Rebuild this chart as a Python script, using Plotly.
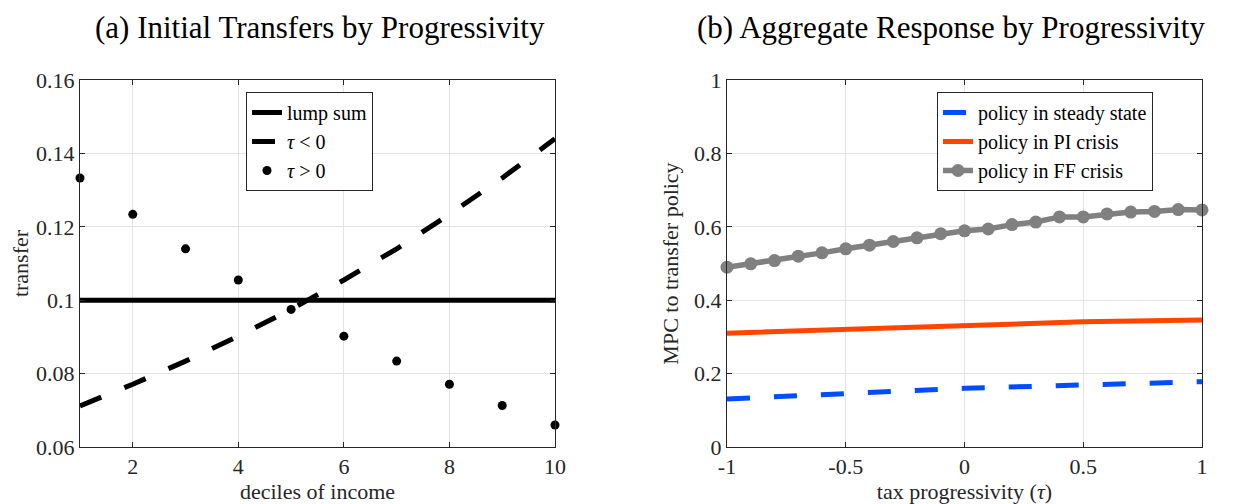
import plotly.graph_objects as go

# ---------------- data ----------------
deciles = [1, 2, 3, 4, 5, 6, 7, 8, 9, 10]
lump_sum = [0.1] * 10
tau_neg = [0.0712, 0.0771, 0.0834, 0.0902, 0.0975, 0.1055, 0.1140, 0.1234, 0.1333, 0.1440]
tau_pos = [0.1333, 0.1234, 0.1140, 0.1055, 0.0975, 0.0902, 0.0834, 0.0771, 0.0713, 0.0660]

tau_grid = [-1.0, -0.9, -0.8, -0.7, -0.6, -0.5, -0.4, -0.3, -0.2, -0.1, 0.0,
            0.1, 0.2, 0.3, 0.4, 0.5, 0.6, 0.7, 0.8, 0.9, 1.0]
mpc_ff = [0.490, 0.499, 0.508, 0.520, 0.529, 0.540, 0.550, 0.560, 0.570, 0.581, 0.589,
          0.594, 0.606, 0.613, 0.627, 0.627, 0.635, 0.640, 0.642, 0.647, 0.646]
tau_pi = [-1.0, -0.5, 0.0, 0.5, 1.0]
mpc_pi = [0.310, 0.321, 0.332, 0.341, 0.346]
tau_ss = [-1.0, -0.5, 0.0, 0.5, 1.0]
mpc_ss = [0.131, 0.146, 0.160, 0.169, 0.178]

left_xticks = [2, 4, 6, 8, 10]
left_yticks = [0.06, 0.08, 0.10, 0.12, 0.14, 0.16]
left_yticklabels = ["0.06", "0.08", "0.1", "0.12", "0.14", "0.16"]
right_xticks = [-1, -0.5, 0, 0.5, 1]
right_xticklabels = ["-1", "-0.5", "0", "0.5", "1"]
right_yticks = [0, 0.2, 0.4, 0.6, 0.8, 1]
right_yticklabels = ["0", "0.2", "0.4", "0.6", "0.8", "1"]

# ---------------- figure ----------------
FONT = "Liberation Serif"
W, H = 1235, 504
OFF = 8  # page body margin
AX = "#262626"
GRID = "#e3e3e3"
FS = 22
LFS = 20

fig = go.Figure()

fig.add_trace(go.Scatter(x=deciles, y=lump_sum, mode="lines", name="lump sum",
                         line=dict(color="black", width=5), xaxis="x", yaxis="y",
                         legend="legend"))
fig.add_trace(go.Scatter(x=deciles, y=tau_neg, mode="lines", name="<i>τ</i> &lt; 0",
                         line=dict(color="black", width=5, dash="23px,25px"),
                         xaxis="x", yaxis="y", legend="legend"))
fig.add_trace(go.Scatter(x=deciles, y=tau_pos, mode="markers", name="<i>τ</i> &gt; 0",
                         marker=dict(color="black", size=9), cliponaxis=False,
                         xaxis="x", yaxis="y", legend="legend"))

fig.add_trace(go.Scatter(x=tau_ss, y=mpc_ss, mode="lines", name="policy in steady state",
                         line=dict(color="#004dff", width=5, dash="23px,24px"),
                         xaxis="x2", yaxis="y2", legend="legend2"))
fig.add_trace(go.Scatter(x=tau_pi, y=mpc_pi, mode="lines", name="policy in PI crisis",
                         line=dict(color="#ff4500", width=5),
                         xaxis="x2", yaxis="y2", legend="legend2"))
fig.add_trace(go.Scatter(x=tau_grid, y=mpc_ff, mode="lines+markers", name="policy in FF crisis",
                         line=dict(color="#808080", width=5.5),
                         marker=dict(color="#808080", size=13), cliponaxis=False,
                         xaxis="x2", yaxis="y2", legend="legend2"))

def px_x(p):
    return (p - OFF) / W

def px_y(p):
    return 1 - (p - OFF) / H

tfont = dict(family=FONT, size=FS, color="#262626")
common_axis = dict(showline=True, linecolor=AX, linewidth=1, mirror="ticks",
                   ticks="inside", ticklen=5, tickcolor=AX,
                   showgrid=True, gridcolor=GRID, gridwidth=1, zeroline=False,
                   tickfont=tfont, automargin=False)

fig.update_layout(
    width=W, height=H,
    margin=dict(l=0, r=0, t=0, b=0),
    paper_bgcolor="white", plot_bgcolor="white",
    font=dict(family=FONT, size=FS, color="#262626"),
    xaxis=dict(domain=[px_x(80), px_x(555)], range=[1, 10], tickvals=left_xticks,
               anchor="y", title=dict(text="deciles of income", standoff=4, font=tfont),
               **common_axis),
    yaxis=dict(domain=[px_y(447), px_y(80)], range=[0.06, 0.16], tickvals=left_yticks,
               ticktext=left_yticklabels, anchor="x",
               title=dict(text="transfer", standoff=12, font=tfont),
               **common_axis),
    xaxis2=dict(domain=[px_x(727), px_x(1202)], range=[-1, 1], tickvals=right_xticks,
                ticktext=right_xticklabels, anchor="y2",
                title=dict(text="tax progressivity (<i>τ</i>)", standoff=4, font=tfont),
                **common_axis),
    yaxis2=dict(domain=[px_y(447), px_y(80)], range=[0, 1], tickvals=right_yticks,
                ticktext=right_yticklabels, anchor="x2",
                title=dict(text="MPC to transfer policy", standoff=9, font=tfont),
                **common_axis),
    legend=dict(x=px_x(246), y=px_y(92), xanchor="left", yanchor="top",
                bgcolor="white", bordercolor=AX, borderwidth=1,
                font=dict(family=FONT, size=LFS, color="black"), tracegroupgap=0),
    legend2=dict(x=px_x(937), y=px_y(92), xanchor="left", yanchor="top",
                 bgcolor="white", bordercolor=AX, borderwidth=1,
                 font=dict(family=FONT, size=LFS, color="black"), tracegroupgap=0),
    annotations=[
        dict(text="(a) Initial Transfers by Progressivity", x=px_x(320), y=1,
             xref="paper", yref="paper", xanchor="center", yanchor="top",
             showarrow=False, font=dict(family=FONT, size=31, color="black")),
        dict(text="(b) Aggregate Response by Progressivity", x=px_x(951), y=1,
             xref="paper", yref="paper", xanchor="center", yanchor="top",
             showarrow=False, font=dict(family=FONT, size=31, color="black")),
    ],
)

fig.write_html("out.html")
